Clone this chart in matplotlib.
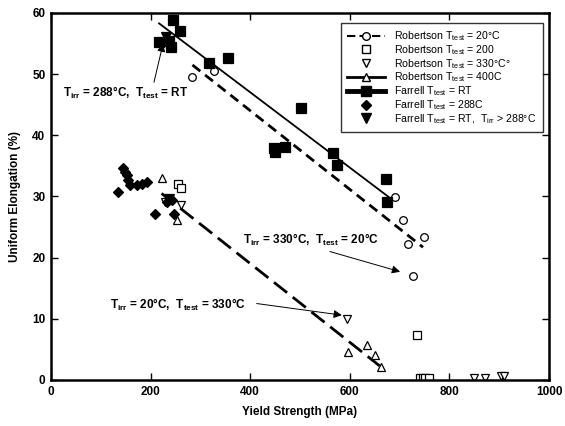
import numpy as np
import matplotlib
matplotlib.use('Agg')
import matplotlib.pyplot as plt
from matplotlib.lines import Line2D

plt.rcParams['font.family'] = 'Liberation Sans'
plt.rcParams['mathtext.fontset'] = 'custom'
plt.rcParams['mathtext.rm'] = 'Liberation Sans'
plt.rcParams['mathtext.it'] = 'Liberation Sans'
plt.rcParams['mathtext.bf'] = 'Liberation Sans:bold'

# Robertson, T_test = 20C (open circles)
rob20_ys = [284, 327, 691, 706, 717, 726, 749]
rob20_ue = [49.6, 50.5, 29.9, 26.1, 22.3, 17.0, 23.3]
# Robertson, T_test = 200 (open squares)
rob200_ys = [254, 262, 734, 741, 746, 750, 759]
rob200_ue = [32.0, 31.4, 7.3, 0.3, 0.3, 0.3, 0.3]
# Robertson, T_test = 330C (open down triangles)
rob330_ys = [229, 262, 595, 849, 871, 903, 909]
rob330_ue = [29.1, 28.6, 9.9, 0.4, 0.4, 0.6, 0.6]
# Robertson, T_test = 400C (open up triangles)
rob400_ys = [222, 252, 596, 634, 650, 663]
rob400_ue = [33.1, 26.1, 4.5, 5.8, 4.1, 2.2]
# Farrell, T_test = RT (filled squares)
farRT_ys = [244, 258, 217, 240, 236, 317, 355, 448, 450, 470, 502, 567, 575, 673, 675]
farRT_ue = [58.8, 57.1, 55.3, 54.5, 55.5, 51.9, 52.7, 37.9, 37.3, 38.1, 44.4, 37.1, 35.1, 32.8, 29.1]
# Farrell, T_test = 288C (filled diamonds)
far288_ys = [145, 149, 152, 155, 159, 172, 182, 192, 135, 232, 242, 209, 247]
far288_ue = [34.6, 34.0, 33.5, 32.7, 31.9, 31.9, 32.1, 32.4, 30.8, 29.1, 29.4, 27.2, 27.2]
# Farrell, T_test = RT, T_irr > 288C (filled down triangles)
farHi_ys = [230, 236]
farHi_ue = [56.0, 29.6]

# trend lines (end points)
fit_rob20_x = [284, 747]
fit_rob20_y = [51.5, 21.7]
fit_farRT_x = [217, 680]
fit_farRT_y = [58.3, 29.8]
fit_rob400_x = [222, 660]
fit_rob400_y = [30.5, 2.3]

fig = plt.figure(figsize=(5.65, 4.26), dpi=100)
ax = fig.add_axes([0.0903, 0.108, 0.8814, 0.8615])

ax.plot(fit_farRT_x, fit_farRT_y, color='black', lw=1.3)
ax.plot(fit_rob20_x, fit_rob20_y, color='black', lw=2, dashes=(3.6, 2.2))
ax.plot(fit_rob400_x, fit_rob400_y, color='black', lw=2, dashes=(6, 2.6))

mk = dict(linestyle='none', markeredgecolor='black', markeredgewidth=0.9)
ax.plot(rob20_ys, rob20_ue, marker='o', ms=5.5, markerfacecolor='white', **mk)
ax.plot(rob200_ys, rob200_ue, marker='s', ms=5.5, markerfacecolor='white', **mk)
ax.plot(rob330_ys, rob330_ue, marker='v', ms=6, markerfacecolor='white', **mk)
ax.plot(rob400_ys, rob400_ue, marker='^', ms=6, markerfacecolor='white', **mk)
ax.plot(farRT_ys, farRT_ue, marker='s', ms=7, markerfacecolor='black', **mk)
ax.plot(far288_ys, far288_ue, marker='D', ms=5, markerfacecolor='black', **mk)
ax.plot(farHi_ys, farHi_ue, marker='v', ms=7, markerfacecolor='black', **mk)

# annotations
ann = dict(fontsize=8.5, fontweight='bold', va='center')
arw = dict(arrowstyle='-|>', color='black', lw=0.7, mutation_scale=12, shrinkA=0, shrinkB=0)
ax.annotate(r'T$_{\mathbf{irr}}$ = 288°C,  T$_{\mathbf{test}}$ = RT', xy=(225, 55.0),
            xytext=(24, 46.9), arrowprops=dict(relpos=(0.72, 1.0), **arw), **ann)
ax.text(386, 22.9, r'T$_{\mathbf{irr}}$ = 330°C,  T$_{\mathbf{test}}$ = 20°C', **ann)
ax.annotate('', xy=(701, 17.7), xytext=(560, 21.0), arrowprops=arw)
ax.text(118, 12.3, r'T$_{\mathbf{irr}}$ = 20°C,  T$_{\mathbf{test}}$ = 330°C', **ann)
ax.annotate('', xy=(584, 10.6), xytext=(413, 12.5), arrowprops=arw)

ax.set_xlim(0, 1000)
ax.set_ylim(0, 60)
ax.set_xticks(np.arange(0, 1001, 200))
ax.set_yticks(np.arange(0, 61, 10))
ax.tick_params(direction='in', top=True, right=True, length=5, width=1, labelsize=8.5, pad=4)
for lab in ax.get_xticklabels() + ax.get_yticklabels():
    lab.set_fontweight('bold')
for sp in ax.spines.values():
    sp.set_linewidth(1.8)
ax.set_xlabel('Yield Strength (MPa)', fontsize=8.5, fontweight='bold', labelpad=6)
ax.set_ylabel('Uniform Elongation (%)', fontsize=8.5, fontweight='bold', labelpad=8)

handles = [
    Line2D([], [], color='black', lw=1.5, dashes=(4, 2), marker='o', ms=5.5,
           markerfacecolor='white', markeredgecolor='black'),
    Line2D([], [], linestyle='none', marker='s', ms=5.5, markerfacecolor='white', markeredgecolor='black'),
    Line2D([], [], linestyle='none', marker='v', ms=6, markerfacecolor='white', markeredgecolor='black'),
    Line2D([], [], color='black', lw=2, marker='^', ms=6, markerfacecolor='white', markeredgecolor='black'),
    Line2D([], [], color='black', lw=3.5, marker='s', ms=7, markerfacecolor='black', markeredgecolor='black'),
    Line2D([], [], linestyle='none', marker='D', ms=5, markerfacecolor='black', markeredgecolor='black'),
    Line2D([], [], linestyle='none', marker='v', ms=7, markerfacecolor='black', markeredgecolor='black'),
]
labels = [
    r'Robertson T$_{\mathrm{test}}$ = 20°C',
    r'Robertson T$_{\mathrm{test}}$ = 200',
    r'Robertson T$_{\mathrm{test}}$ = 330°C°',
    r'Robertson T$_{\mathrm{test}}$ = 400C',
    r'Farrell T$_{\mathrm{test}}$ = RT',
    r'Farrell T$_{\mathrm{test}}$ = 288C',
    r'Farrell T$_{\mathrm{test}}$ = RT,  T$_{\mathrm{irr}}$ > 288°C',
]
leg = ax.legend(handles, labels, loc='upper right', bbox_to_anchor=(0.988, 0.973), fontsize=7.6,
                frameon=True, fancybox=False, edgecolor='black', handlelength=3.6,
                labelspacing=0.0, borderpad=0.6, handletextpad=0.9, borderaxespad=0)
leg.get_frame().set_linewidth(1.0)

fig.savefig('out.png', dpi=100)
